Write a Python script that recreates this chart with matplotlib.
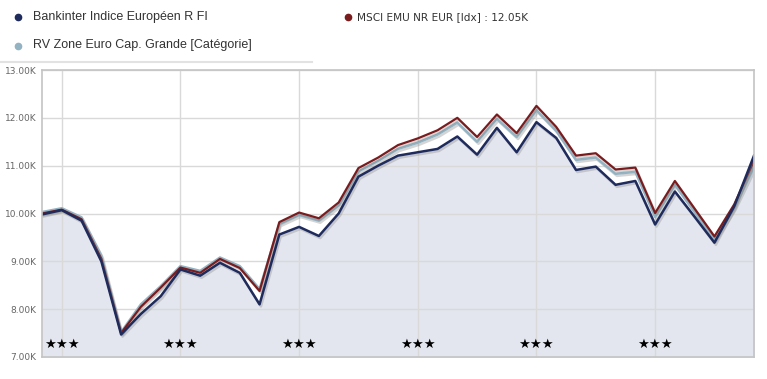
import numpy as np
import matplotlib
matplotlib.use('Agg')
import matplotlib.pyplot as plt
import matplotlib.patheffects as pe
from matplotlib.ticker import FuncFormatter

# values in thousands, one point every ~2 months
fund = [9.98, 10.07, 9.85, 9.00, 7.47, 7.90, 8.27, 8.83, 8.70, 8.97, 8.76, 8.10,
        9.56, 9.72, 9.53, 10.00, 10.77, 11.00, 11.21, 11.28, 11.35, 11.61, 11.23,
        11.79, 11.28, 11.91, 11.58, 10.91, 10.98, 10.60, 10.68, 9.77, 10.46, 9.93,
        9.39, 10.15, 11.21]
index = [10.00, 10.08, 9.88, 9.05, 7.50, 8.05, 8.45, 8.87, 8.76, 9.05, 8.86, 8.38,
         9.82, 10.02, 9.90, 10.23, 10.95, 11.17, 11.43, 11.57, 11.74, 12.00, 11.60,
         12.07, 11.68, 12.25, 11.81, 11.21, 11.26, 10.92, 10.96, 10.01, 10.68, 10.10,
         9.52, 10.19, 11.10]
category = [10.03, 10.11, 9.92, 9.12, 7.52, 8.10, 8.48, 8.90, 8.80, 9.08, 8.90, 8.42,
            9.78, 9.97, 9.85, 10.17, 10.88, 11.10, 11.35, 11.48, 11.65, 11.90, 11.50,
            11.98, 11.60, 12.16, 11.73, 11.12, 11.17, 10.83, 10.87, 9.93, 10.60, 10.03,
            9.45, 10.12, 10.97]
year_marks = [1, 7, 13, 19, 25, 31]
yticks = [7, 8, 9, 10, 11, 12, 13]

labels = ['Bankinter Indice Européen R FI',
          'MSCI EMU NR EUR [Idx] : 12.05K',
          'RV Zone Euro Cap. Grande [Catégorie]']
c_fund = '#1e2b5c'
c_index = '#7a1c1e'
c_cat = '#93b2c2'

W, H = 767, 379
fig = plt.figure(figsize=(W / 100, H / 100), dpi=100)
ax = fig.add_axes([42 / W, 1 - 357 / H, (754 - 42) / W, (357 - 70) / H])

x = np.arange(len(fund))
shadow = [pe.SimpleLineShadow(offset=(1, -1.5), shadow_color='#888888', alpha=0.35), pe.Normal()]

ax.fill_between(x, fund, 7, color='#e3e6ef', zorder=1)
ax.plot(x, category, color=c_cat, lw=1.8, zorder=3, path_effects=shadow)
ax.plot(x, index, color=c_index, lw=1.6, zorder=4, path_effects=shadow)
ax.plot(x, fund, color=c_fund, lw=1.8, zorder=5, path_effects=shadow)

for m in year_marks:
    ax.text(m, 7.27, '★★★', ha='center', va='center', fontsize=9.5, color='black', zorder=6)

ax.set_xlim(0, len(fund) - 1)
ax.set_ylim(7, 13)
ax.set_yticks(yticks)
ax.yaxis.set_major_formatter(FuncFormatter(lambda v, p: f'{v:.2f}K'))
ax.set_xticks(year_marks)
ax.set_xticklabels([])
ax.tick_params(axis='x', length=0)
ax.tick_params(axis='y', length=0, pad=4, labelsize=6.5, labelcolor='#666666')
ax.grid(True, color='#d9d9d9', lw=1, zorder=2)
ax.set_axisbelow(False)
for sp in ['left', 'top', 'right', 'bottom']:
    ax.spines[sp].set_color('#c4c4c4')
    ax.spines[sp].set_linewidth(1.2)
    ax.spines[sp].set_zorder(7)

# legend drawn on the figure
fig.lines.append(plt.Line2D([18 / W], [1 - 17 / H], marker='o', ms=4.5, color=c_fund,
                            transform=fig.transFigure))
fig.lines.append(plt.Line2D([18 / W], [1 - 46 / H], marker='o', ms=4.5, color=c_cat,
                            transform=fig.transFigure))
fig.lines.append(plt.Line2D([348 / W], [1 - 17 / H], marker='o', ms=4.5, color=c_index,
                            transform=fig.transFigure))
fig.text(33 / W, 1 - 17 / H, labels[0], fontsize=9, family='Liberation Sans',
         color='#333333', va='center')
fig.text(33 / W, 1 - 45 / H, labels[2], fontsize=9, family='Liberation Sans',
         color='#333333', va='center')
fig.text(357 / W, 1 - 17 / H, labels[1], fontsize=7.6, family='DejaVu Sans',
         color='#333333', va='center')
fig.lines.append(plt.Line2D([0, 312 / W], [1 - 62 / H, 1 - 62 / H], color='#e2e2e2', lw=1.5,
                            transform=fig.transFigure))

fig.savefig('out.png', dpi=100)
